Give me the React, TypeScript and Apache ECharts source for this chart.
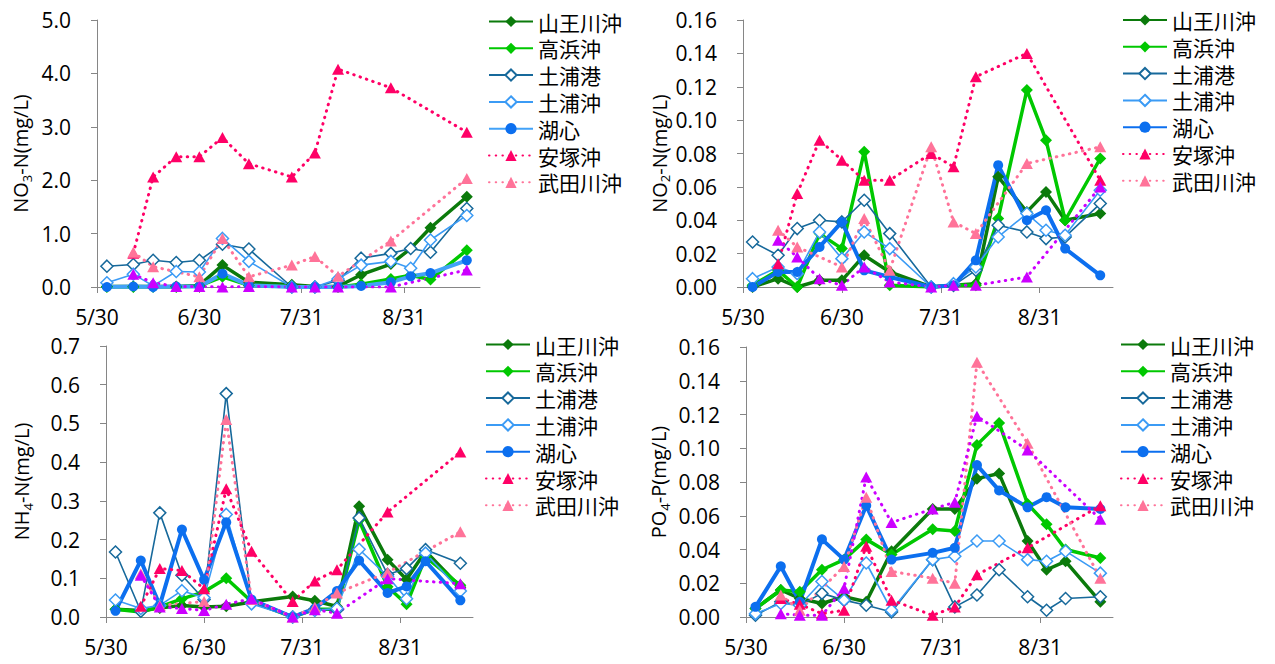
import React, { useEffect, useRef } from 'react';
import * as echarts from 'echarts';

// ---- data ----
const sampleDates = ['6/2', '6/10', '6/16', '6/23', '6/30', '7/7', '7/15', '7/28', '8/4', '8/11', '8/18', '8/27', '9/2', '9/8', '9/19'];
const axisDates = ['5/30', '6/30', '7/31', '8/31'];
const stations = ['山王川沖', '高浜沖', '土浦港', '土浦沖', '湖心', '安塚沖', '武田川沖', 'その他'];
const legendStations = ['山王川沖', '高浜沖', '土浦港', '土浦沖', '湖心', '安塚沖', '武田川沖'];

// rows follow the order of `stations`
const no3Values = [
  [0.01, 0.01, 0.01, 0.01, 0.03, 0.41, 0.09, 0.04, 0.01, 0.01, 0.23, 0.43, 0.72, 1.11, 1.69],
  [0.0, 0.0, 0.0, 0.0, 0.02, 0.19, 0.03, 0.01, 0.0, 0.0, 0.05, 0.15, 0.22, 0.14, 0.69],
  [0.39, 0.42, 0.5, 0.46, 0.5, 0.8, 0.71, 0.0, 0.0, 0.12, 0.54, 0.63, 0.72, 0.65, 1.47],
  [0.08, 0.24, 0.02, 0.29, 0.28, 0.91, 0.48, 0.0, 0.0, 0.15, 0.41, 0.48, 0.35, 0.88, 1.34],
  [0.0, 0.01, 0.0, 0.01, 0.01, 0.25, 0.03, 0.0, 0.0, 0.0, 0.02, 0.09, 0.2, 0.26, 0.5],
  [null, 0.63, 2.06, 2.44, 2.44, 2.8, 2.31, 2.06, 2.51, 4.08, null, 3.73, null, null, 2.9],
  [null, 0.65, 0.38, null, 0.19, 0.91, 0.19, 0.41, 0.57, 0.2, null, 0.86, null, null, 2.03],
  [null, 0.24, 0.08, 0.01, 0.01, 0.0, 0.01, 0.0, 0.0, 0.0, null, 0.0, null, null, 0.32],
];
const no2Values = [
  [0.0, 0.005, 0.0, 0.004, 0.004, 0.019, 0.009, 0.0, 0.001, 0.002, 0.066, 0.045, 0.057, 0.04, 0.044],
  [0.001, 0.01, 0.0, 0.032, 0.023, 0.081, 0.001, 0.0, 0.001, 0.001, 0.041, 0.118, 0.088, 0.04, 0.077],
  [0.027, 0.019, 0.035, 0.04, 0.039, 0.052, 0.032, 0.0, 0.001, 0.01, 0.037, 0.033, 0.029, 0.03, 0.05],
  [0.005, 0.012, 0.008, 0.033, 0.017, 0.033, 0.023, 0.0, 0.002, 0.012, 0.03, 0.044, 0.034, 0.031, 0.058],
  [0.0, 0.009, 0.009, 0.024, 0.039, 0.01, 0.006, 0.0, 0.001, 0.016, 0.073, 0.04, 0.046, 0.023, 0.007],
  [null, 0.014, 0.056, 0.088, 0.076, 0.064, 0.064, 0.08, 0.072, 0.126, null, 0.14, null, null, 0.064],
  [null, 0.034, 0.024, null, 0.012, 0.041, 0.01, 0.084, 0.039, 0.032, null, 0.074, null, null, 0.084],
  [null, 0.028, 0.018, 0.005, 0.001, 0.012, 0.003, 0.0, 0.001, 0.001, null, 0.006, null, null, 0.06],
];
const nh4Values = [
  [0.02, 0.017, 0.023, 0.03, 0.026, 0.028, 0.039, 0.053, 0.042, 0.027, 0.286, 0.148, 0.097, 0.17, 0.077],
  [0.02, 0.013, 0.026, 0.047, 0.065, 0.1, 0.04, 0.0, 0.02, 0.02, 0.25, 0.078, 0.033, 0.155, 0.082],
  [0.168, 0.015, 0.269, 0.108, 0.045, 0.577, 0.036, 0.0, 0.02, 0.018, 0.256, 0.11, 0.125, 0.174, 0.139],
  [0.044, 0.022, 0.03, 0.068, 0.05, 0.265, 0.034, 0.0, 0.017, 0.022, 0.175, 0.105, 0.047, 0.165, 0.067],
  [0.016, 0.146, 0.03, 0.226, 0.096, 0.245, 0.045, 0.0, 0.022, 0.067, 0.146, 0.062, 0.079, 0.144, 0.043],
  [null, 0.028, 0.125, 0.12, 0.073, 0.331, 0.17, 0.04, 0.093, 0.122, null, 0.271, null, null, 0.426],
  [null, 0.112, 0.03, null, 0.04, 0.51, 0.045, 0.0, 0.025, 0.062, null, 0.115, null, null, 0.22],
  [null, 0.108, 0.026, 0.022, 0.017, 0.033, 0.047, 0.0, 0.019, 0.01, null, 0.099, null, null, 0.086],
];
const po4Values = [
  [0.005, 0.016, 0.011, 0.008, 0.012, 0.009, 0.039, 0.064, 0.064, 0.082, 0.085, 0.045, 0.028, 0.033, 0.009],
  [0.005, 0.016, 0.015, 0.028, 0.034, 0.046, 0.037, 0.052, 0.051, 0.102, 0.115, 0.067, 0.055, 0.04, 0.035],
  [0.001, 0.009, 0.007, 0.014, 0.01, 0.007, 0.003, 0.034, 0.006, 0.013, 0.028, 0.012, 0.004, 0.011, 0.012],
  [0.002, 0.008, 0.007, 0.021, 0.01, 0.032, 0.004, 0.034, 0.036, 0.045, 0.045, 0.034, 0.033, 0.039, 0.026],
  [0.006, 0.03, 0.009, 0.046, 0.034, 0.066, 0.034, 0.038, 0.041, 0.09, 0.075, 0.065, 0.071, 0.065, 0.064],
  [null, 0.011, 0.0075, 0.002, 0.004, 0.042, 0.01, 0.001, 0.006, 0.025, null, 0.041, null, null, 0.066],
  [null, 0.013, 0.004, null, 0.03, 0.071, 0.027, 0.023, 0.02, 0.151, null, 0.103, null, null, 0.023],
  [null, 0.002, 0.001, 0.001, 0.017, 0.083, 0.056, 0.064, 0.068, 0.119, null, 0.099, null, null, 0.058],
];

// ---- helpers / styles ----
const FONT = '"Open Sans", "Liberation Sans", sans-serif';
const JP = '"Noto Sans CJK JP", sans-serif';
const AXIS_COLOR = '#868686';

const dayOffset = (md: string) => {
  const [m, d] = md.split('/').map(Number);
  return Math.round((Date.UTC(2000, m - 1, d) - Date.UTC(2000, 4, 30)) / 86400000);
};
const sampleDays = sampleDates.map(dayOffset);
const tickDays = axisDates.map(dayOffset);

const DOT = { type: [0.5, 6.2], cap: 'round' as const, width: 3 };

const styles = [
  { color: '#0B7A0B', line: { width: 3.5 }, symbol: 'diamond', size: 12, hollow: false },
  { color: '#00C800', line: { width: 3.5 }, symbol: 'diamond', size: 12, hollow: false },
  { color: '#17699B', line: { width: 1.6 }, symbol: 'diamond', size: 12, hollow: true },
  { color: '#3B9BF5', line: { width: 1.6 }, symbol: 'diamond', size: 12, hollow: true },
  { color: '#0C6FEF', line: { width: 4 }, symbol: 'circle', size: 10, hollow: false },
  { color: '#FF0066', line: DOT, symbol: 'triangle', size: [12, 11], hollow: false },
  { color: '#FF7399', line: DOT, symbol: 'triangle', size: [12, 11], hollow: false },
  { color: '#CC00FF', line: DOT, symbol: 'triangle', size: [12, 11], hollow: false },
];

const panels = [
  { values: no3Values, left: 97, top: 20, width: 383, height: 267, yMax: 5, yInt: 1, dec: 1, pre: 'NO', sub: '3', post: '-N(mg/L)', nameGap: 64, legendLeft: 488, legendTop: 11, lakeLine: '#42A2F8' },
  { values: no2Values, left: 743, top: 20, width: 370, height: 267, yMax: 0.16, yInt: 0.02, dec: 2, pre: 'NO', sub: '2', post: '-N(mg/L)', nameGap: 71, legendLeft: 1122, legendTop: 9.5, lakeLine: '#0C6FEF' },
  { values: nh4Values, left: 106, top: 346, width: 367, height: 271, yMax: 0.7, yInt: 0.1, dec: 1, pre: 'NH', sub: '4', post: '-N(mg/L)', nameGap: 72, legendLeft: 485, legendTop: 334, lakeLine: '#0C6FEF' },
  { values: po4Values, left: 746, top: 347, width: 367, height: 270, yMax: 0.16, yInt: 0.02, dec: 2, pre: 'PO', sub: '4', post: '-P(mg/L)', nameGap: 75, legendLeft: 1120, legendTop: 334, lakeLine: '#0C6FEF' },
];

const fmtDate = (v: number) => {
  const i = tickDays.indexOf(Math.round(v));
  return i >= 0 ? axisDates[i] : '';
};

function buildOption() {
  const series: any[] = [];
  panels.forEach((p, pi) => {
    stations.forEach((st, si) => {
      const s = styles[si];
      const data = p.values[si]
        .map((v, i) => (v == null ? null : [sampleDays[i], v]))
        .filter((d) => d !== null);
      const lineColor = si === 4 ? p.lakeLine : s.color;
      series.push({
        type: 'line',
        name: `${st}#${pi}`,
        xAxisIndex: pi,
        yAxisIndex: pi,
        data,
        symbol: s.symbol,
        symbolSize: s.size,
        showAllSymbol: true,
        lineStyle: { color: lineColor, ...s.line },
        itemStyle: s.hollow
          ? { color: '#ffffff', borderColor: s.color, borderWidth: 1.5 }
          : { color: s.color, borderWidth: 0 },
        emphasis: { disabled: true },
        z: 2,
      });
    });
  });

  return {
    animation: false,
    grid: panels.map((p) => ({ left: p.left, top: p.top, width: p.width, height: p.height })),
    xAxis: panels.map((p, i) => ({
      type: 'value',
      gridIndex: i,
      min: 0,
      max: 116,
      interval: 31,
      axisLine: { show: true, onZero: false, lineStyle: { color: AXIS_COLOR, width: 1 } },
      axisTick: { show: true, length: 6, customValues: tickDays, lineStyle: { color: AXIS_COLOR } },
      axisLabel: { customValues: tickDays, formatter: fmtDate, fontSize: 21, fontFamily: FONT, color: '#000', margin: 19 },
      splitLine: { show: false },
    })),
    yAxis: panels.map((p, i) => ({
      type: 'value',
      gridIndex: i,
      min: 0,
      max: p.yMax,
      interval: p.yInt,
      name: `{a|${p.pre}}{b|${p.sub}}{a|${p.post}}`,
      nameLocation: 'middle',
      nameGap: p.nameGap,
      nameTextStyle: {
        rich: {
          a: { fontSize: 20, fontFamily: FONT, color: '#000', lineHeight: 25 },
          b: { fontSize: 13, fontFamily: FONT, color: '#000', lineHeight: 13, verticalAlign: 'bottom' },
        },
      },
      axisLine: { show: true, lineStyle: { color: AXIS_COLOR, width: 1 } },
      axisTick: { show: true, length: 6, lineStyle: { color: AXIS_COLOR } },
      axisLabel: { formatter: (v: number) => v.toFixed(p.dec), fontSize: 21, fontFamily: FONT, color: '#000', margin: 26 },
      splitLine: { show: false },
    })),
    legend: panels.map((p, i) => ({
      orient: 'vertical',
      left: p.legendLeft,
      top: p.legendTop,
      padding: 0,
      itemGap: 5.8,
      itemWidth: 44,
      itemHeight: 14,
      data: legendStations.map((s) => `${s}#${i}`),
      formatter: (n: string) => n.split('#')[0],
      textStyle: { fontFamily: JP, fontSize: 21, lineHeight: 21, color: '#000' },
    })),
    series,
  };
}

export default function App() {
  const ref = useRef<HTMLDivElement>(null);
  useEffect(() => {
    document.body.style.margin = '0';
    if (!ref.current) return;
    const chart = echarts.init(ref.current, undefined, { renderer: 'svg' });
    chart.setOption(buildOption() as any);
    return () => chart.dispose();
  }, []);
  return <div ref={ref} style={{ width: 1275, height: 664, background: '#fff' }} />;
}
